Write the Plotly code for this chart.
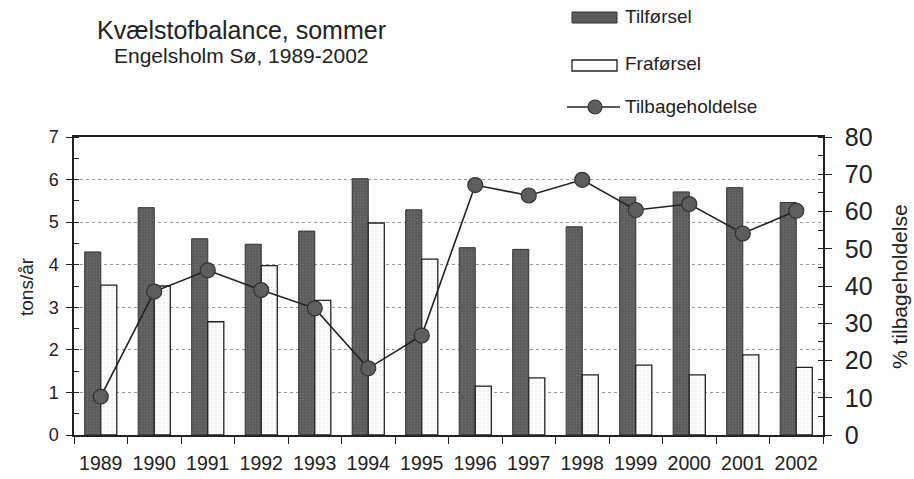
import plotly.graph_objects as go

# data
years = ["1989", "1990", "1991", "1992", "1993", "1994", "1995",
         "1996", "1997", "1998", "1999", "2000", "2001", "2002"]
tilforsel = [4.30, 5.34, 4.61, 4.48, 4.79, 6.02, 5.29,
             4.40, 4.36, 4.89, 5.59, 5.71, 5.81, 5.46]
fraforsel = [3.52, 3.50, 2.66, 3.98, 3.16, 4.98, 4.13,
             1.15, 1.34, 1.41, 1.64, 1.41, 1.88, 1.59]
tilbageholdelse = [10.3, 38.5, 44.2, 38.9, 34.0, 17.9, 26.7,
                   67.1, 64.3, 68.5, 60.4, 62.0, 54.1, 60.2]

left_ticks = [0, 1, 2, 3, 4, 5, 6, 7]
right_ticks = [0, 10, 20, 30, 40, 50, 60, 70, 80]

FONT = "Arial, Liberation Sans, sans-serif"
DARK = "#5a5a5a"

# plot area in pixels
L, R, T, B = 74, 823, 137, 435
W, H = R - L, B - T


def px(x):
    return (x - L) / W


def py(y):
    return (B - y) / H


fig = go.Figure()

fig.add_trace(go.Bar(
    x=years, y=tilforsel, name="Tilførsel",
    marker=dict(color=DARK, line=dict(color="#333333", width=1),
                pattern=dict(shape=".", fgcolor="#7c7c7c", size=3, solidity=0.3)),
))
fig.add_trace(go.Bar(
    x=years, y=fraforsel, name="Fraførsel",
    marker=dict(color="#fbfbfb", line=dict(color="#222222", width=1.3),
                pattern=dict(shape=".", fgcolor="#d2d2d2", size=4, solidity=0.15)),
))
fig.add_trace(go.Scatter(
    x=years, y=tilbageholdelse, name="Tilbageholdelse",
    yaxis="y2", mode="lines+markers",
    line=dict(color="#222222", width=1.6),
    marker=dict(size=15, color="#5e5e5e", line=dict(color="#333333", width=1.2)),
))

fig.update_layout(
    width=914, height=479,
    margin=dict(l=L, r=914 - R, t=T, b=479 - B, autoexpand=False),
    paper_bgcolor="#fdfdfd",
    plot_bgcolor="#fdfdfd",
    font=dict(family=FONT, color="#222222"),
    barmode="group",
    bargap=0.40,
    bargroupgap=0,
    showlegend=False,
    xaxis=dict(
        type="category", automargin=False, tickangle=0,
        range=[-0.5, len(years) - 0.5],
        showline=True, linecolor="#222222", linewidth=1.5, mirror=True,
        ticks="outside", tickson="boundaries", ticklen=7, tickcolor="#222222",
        tickfont=dict(size=19.5), ticklabelstandoff=10, showgrid=False,
    ),
    yaxis=dict(
        range=[0, 7], tickvals=left_ticks, ticktext=[str(v) for v in left_ticks],
        automargin=False,
        showline=True, linecolor="#222222", linewidth=1.5,
        ticks="outside", ticklen=6, tickcolor="#222222",
        tickfont=dict(size=18), ticklabelstandoff=4,
        showgrid=True, gridcolor="#9a9a9a", griddash="dot", gridwidth=1,
        zeroline=False,
        minor=dict(dtick=0.5, ticks="inside", ticklen=5, tickcolor="#222222", showgrid=False),
    ),
    yaxis2=dict(
        overlaying="y", side="right", range=[0, 80],
        tickvals=right_ticks, ticktext=[str(v) for v in right_ticks],
        automargin=False,
        showline=True, linecolor="#222222", linewidth=1.5,
        ticks="outside", ticklen=7, tickcolor="#222222",
        tickfont=dict(size=25), ticklabelstandoff=8,
        showgrid=False, zeroline=False,
        minor=dict(dtick=5, ticks="inside", ticklen=5, tickcolor="#222222"),
    ),
)

# titles
fig.add_annotation(text="Kvælstofbalance, sommer", xref="paper", yref="paper",
                   x=px(241), y=py(30), showarrow=False,
                   xanchor="center", yanchor="middle", font=dict(size=25))
fig.add_annotation(text="Engelsholm Sø, 1989-2002", xref="paper", yref="paper",
                   x=px(241), y=py(55), showarrow=False,
                   xanchor="center", yanchor="middle", font=dict(size=21))
fig.add_annotation(text="tons/år", xref="paper", yref="paper",
                   x=px(26), y=py(286), showarrow=False, textangle=-90,
                   xanchor="center", yanchor="middle", font=dict(size=19))
fig.add_annotation(text="% tilbageholdelse", xref="paper", yref="paper",
                   x=px(899), y=py(287), showarrow=False, textangle=-90,
                   xanchor="center", yanchor="middle", font=dict(size=21))

# hand-drawn legend, as in the original figure
fig.add_shape(type="rect", xref="paper", yref="paper",
              x0=px(572), x1=px(617), y0=py(12), y1=py(23),
              fillcolor=DARK, line=dict(color="#333333", width=1))
fig.add_shape(type="rect", xref="paper", yref="paper",
              x0=px(572), x1=px(617), y0=py(60), y1=py(71),
              fillcolor="#fdfdfd", line=dict(color="#222222", width=1.3))
fig.add_shape(type="line", xref="paper", yref="paper",
              x0=px(567), x1=px(620), y0=py(107), y1=py(107),
              line=dict(color="#222222", width=1.6))
fig.add_shape(type="circle", xref="paper", yref="paper",
              x0=px(588), x1=px(602), y0=py(100), y1=py(114),
              fillcolor="#5e5e5e", line=dict(color="#333333", width=1.2))
for label, yc in [("Tilførsel", 17), ("Fraførsel", 63), ("Tilbageholdelse", 106)]:
    fig.add_annotation(text=label, xref="paper", yref="paper",
                       x=px(623), y=py(yc), showarrow=False,
                       xanchor="left", yanchor="middle", font=dict(size=19))

# the page body has a default 8px margin; drop it so the figure fills the window
fig.write_html("out.html", config={"displayModeBar": False},
               post_script="document.body.style.margin='0';")
